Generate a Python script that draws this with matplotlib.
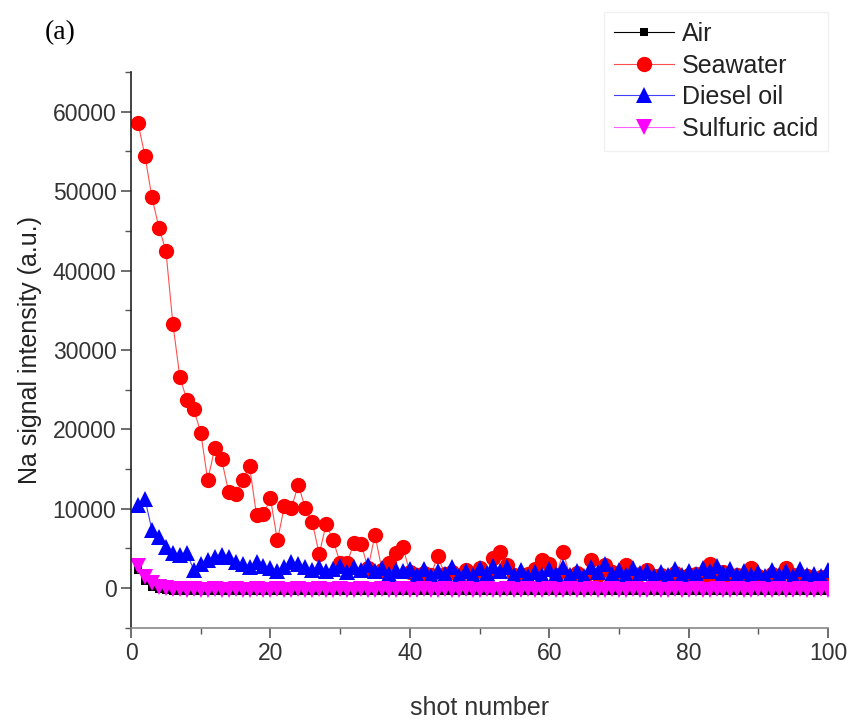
import numpy as np
import matplotlib
matplotlib.use("Agg")
import matplotlib.pyplot as plt
from matplotlib.ticker import MultipleLocator

plt.rcParams['font.family'] = ['Liberation Sans', 'DejaVu Sans']

shots = np.arange(1, 101)

air = [2300, 900, 200, -100, -200, -300, -300, -350, -300, -350,
       -350, -400, -350, -400, -350, -400, -400, -350, -400, -400,
       -350, -400, -400, -350, -400, -400, -350, -400, -400, -350,
       -400, -400, -350, -400, -400, -350, -400, -400, -350, -400,
       -400, -350, -400, -400, -350, -400, -400, -350, -400, -400,
       -350, -400, -400, -350, -400, -400, -350, -400, -400, -350,
       -400, -400, -350, -400, -400, -350, -400, -400, -350, -400,
       -400, -350, -400, -400, -350, -400, -400, -350, -400, -400,
       -350, -400, -400, -350, -400, -400, -350, -400, -400, -350,
       -400, -400, -350, -400, -400, -350, -400, -400, -350, -400]

seawater = [58600, 54400, 49200, 45400, 42500, 33300, 26600, 23700, 22500, 19600,
            13600, 17600, 16200, 12100, 11800, 13600, 15400, 9200, 9300, 11300,
            6000, 10300, 10100, 13000, 10100, 8300, 4300, 8100, 6000, 3200,
            3200, 5700, 5600, 2500, 6700, 2300, 3200, 4400, 5200, 2000,
            1700, 1900, 1600, 4000, 1800, 2000, 1500, 2300, 1800, 2500,
            1600, 3800, 4500, 2900, 1700, 1400, 1800, 2400, 3500, 3100,
            1600, 4500, 1500, 1900, 1300, 3500, 1700, 2900, 2000, 1400,
            2900, 1600, 1800, 2300, 1500, 1700, 1300, 1900, 1400, 1600,
            1800, 1200, 3000, 1500, 2000, 1300, 1700, 1400, 2500, 1500,
            1300, 1800, 1400, 2500, 1600, 1300, 1500, 1200, 1400, 1300]

diesel = [10500, 11200, 7300, 6400, 5200, 4400, 4200, 4400, 2300, 3100,
          3500, 3900, 4200, 3900, 3300, 3100, 2600, 3300, 2800, 2500,
          2200, 2700, 3300, 3000, 2600, 2300, 2600, 2200, 2400, 2800,
          2000, 2600, 2300, 2900, 2200, 2500, 1800, 2300, 2100, 2400,
          1600, 2400, 1500, 2200, 1800, 2600, 1500, 2100, 1700, 2500,
          1900, 2800, 2200, 2600, 1700, 2300, 1500, 2000, 1600, 2400,
          1800, 2700, 1600, 2200, 1500, 2600, 2000, 3000, 1800, 2300,
          1600, 2500, 1900, 2200, 1500, 2000, 1700, 2400, 1600, 2200,
          1800, 2500, 2100, 2800, 1900, 2400, 1700, 2200, 1600, 2000,
          1500, 2300, 1700, 2100, 1500, 2400, 1600, 1800, 1500, 2300]

sulfuric = [2800, 1400, 600, 200, 0, -100, -150, -200, -150, -200,
            -200, -150, -200, -200, -150, -200, -200, -150, -200, -200,
            -150, -200, -200, -150, -200, -200, -150, -200, -200, -150,
            -200, -200, -150, -200, -200, -150, -200, -200, -150, -200,
            -200, -150, -200, -200, -150, -200, -200, -150, -200, -200,
            -150, -200, -200, -150, -200, -200, -150, -200, -200, -150,
            -200, -200, -150, -200, -200, -150, -200, -200, -150, -200,
            -200, -150, -200, -200, -150, -200, -200, -150, -200, -200,
            -150, -200, -200, -150, -200, -200, -150, -200, -200, -150,
            -200, -200, -150, -200, -200, -150, -200, -200, -150, -200]

fig = plt.figure(figsize=(8.51, 7.2), dpi=100)
ax = fig.add_axes([0.154, 0.128, 0.819, 0.772])

ax.plot(shots, air, color='black', lw=0.8, marker='s', ms=6, mew=0, label='Air')
ax.plot(shots, seawater, color='#ff5050', lw=0.8, marker='o', ms=11,
        mfc='red', mec='red', mew=0, label='Seawater')
ax.plot(shots, diesel, color='#4040ff', lw=0.8, marker='^', ms=11,
        mfc='blue', mec='blue', mew=0, label='Diesel oil')
ax.plot(shots, sulfuric, color='#ff60ff', lw=0.8, marker='v', ms=11,
        mfc='magenta', mec='magenta', mew=0, label='Sulfuric acid')

ax.set_xlim(0, 100)
ax.set_ylim(-5000, 65000)
ax.xaxis.set_major_locator(MultipleLocator(20))
ax.xaxis.set_minor_locator(MultipleLocator(10))
ax.yaxis.set_major_locator(MultipleLocator(10000))
ax.yaxis.set_minor_locator(MultipleLocator(5000))
ax.set_yticks(range(0, 60001, 10000))

for s in ['top', 'right']:
    ax.spines[s].set_visible(False)
ax.spines['left'].set_color('#222222')
ax.spines['bottom'].set_color('#888888')
ax.spines['left'].set_linewidth(1.2)
ax.spines['bottom'].set_linewidth(1.2)

ax.tick_params(axis='both', which='major', direction='out', length=7, width=1.2,
               labelsize=16.5, labelcolor='#333333', color='#555555')
ax.tick_params(axis='both', which='minor', direction='out', length=4, width=1.0,
               color='#555555')

ax.set_xlabel('shot number', fontsize=18, color='#333333', labelpad=22)
ax.set_ylabel('Na signal intensity (a.u.)', fontsize=18, color='#222222', labelpad=8)

fig.text(0.053, 0.945, '(a)', fontsize=20, family='Liberation Serif')

leg = fig.legend(loc='upper right', bbox_to_anchor=(0.973, 0.983),
                 fontsize=18, frameon=True, fancybox=False, handlelength=2.4,
                 labelspacing=0.3, handletextpad=0.3, borderpad=0.4,
                 borderaxespad=0)
leg.get_frame().set_edgecolor('#eeeeee')
leg.get_frame().set_linewidth(1.0)
for t in leg.get_texts():
    t.set_color('#222222')

fig.savefig('out.png', dpi=100)
